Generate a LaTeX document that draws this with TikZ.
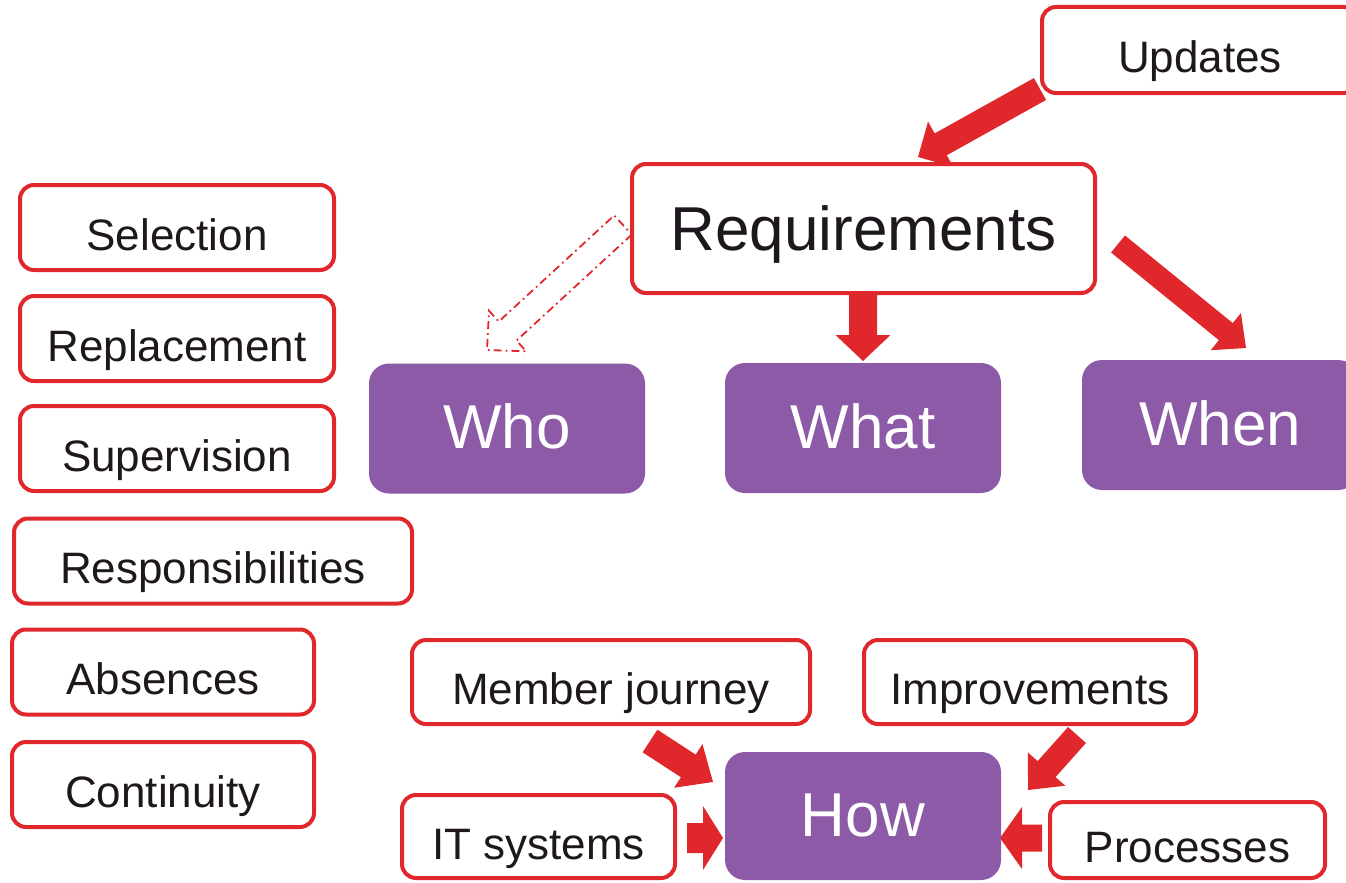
\documentclass[tikz,border=0pt]{standalone}
\usepackage{fontspec}
\setmainfont{Liberation Sans}
\usetikzlibrary{calc,backgrounds}

\definecolor{boxred}{RGB}{224,40,44}
\definecolor{boxpurple}{RGB}{141,90,168}
\definecolor{ink}{RGB}{30,24,30}

% [style]{from}{tip}{shaft half width}{head half width}{head length}
\newcommand{\blockarrow}[6][]{%
  \coordinate (hb) at ($(#3)!#6!(#2)$);
  \path[#1] ($(#2)!#4!90:(#3)$) -- ($(hb)!#4!90:(#3)$) -- ($(hb)!#5!90:(#3)$) -- (#3)
    -- ($(hb)!#5!-90:(#3)$) -- ($(hb)!#4!-90:(#3)$) -- ($(#2)!#4!-90:(#3)$) -- cycle;
}

\begin{document}
\begin{tikzpicture}[x=1pt,y=-1pt,
    redbox/.style={draw=boxred, line width=4pt, fill=white, rounded corners=14pt,
      text=ink, font=\fontsize{44}{50}\selectfont, text height=45.5pt, text depth=0pt,
      inner sep=0pt, outer sep=0pt, minimum height=85pt},
    purplebox/.style={fill=boxpurple, rounded corners=20pt, text=white,
      font=\fontsize{62}{70}\selectfont, text height=40pt, text depth=0pt,
      inner sep=0pt, outer sep=0pt, minimum width=276pt, minimum height=130pt},
    solidarrow/.style={fill=boxred},
    hollowarrow/.style={draw=boxred, line width=1.8pt, dash pattern=on 8pt off 4pt on 1.8pt off 4pt}]
  \useasboundingbox (0,0) rectangle (1346,883);

  \node[redbox, minimum width=316pt, minimum height=86pt] (upd) at (1200,50) {Updates};
  \node[redbox, minimum width=463pt, minimum height=129pt,
    font=\fontsize{62}{70}\selectfont, text height=44pt] (req) at (863.5,228.5) {Requirements};

  \foreach \name/\txt/\x/\y/\w in {sel/Selection/177/227.5/314, rep/Replacement/177/338.5/314,
      sup/Supervision/177/448.5/314, res/Responsibilities/213/561/398,
      abs/Absences/163/672/302, con/Continuity/163/784.5/302}
    \node[redbox, minimum width=\w pt] (\name) at (\x,\y) {\txt};

  \node[purplebox] (who) at (507,428.5) {Who};
  \node[purplebox] (what) at (863,428) {What};
  \node[purplebox] (when) at (1220,425) {When};
  \node[purplebox, minimum height=128pt] (how) at (863,816) {How};

  \node[redbox, minimum width=398pt, minimum height=84pt] (mem) at (611,682) {Member journey};
  \node[redbox, minimum width=332pt, minimum height=84pt] (imp) at (1030,682) {Improvements};
  \node[redbox, minimum width=273pt, minimum height=83pt] (its) at (538.5,836.5) {IT systems};
  \node[redbox, minimum width=275pt, minimum height=76pt] (pro) at (1187.5,840) {Processes};

  \begin{scope}[on background layer]
    \coordinate (u0) at ($(upd.south west)+(-2,-4)$);
    \coordinate (u1) at ($(req.north west)+(286,-7)$);
    \blockarrow[solidarrow]{u0}{u1}{12.5pt}{26pt}{26pt}

    \coordinate (w0) at ($(req.east)+(23,15.5)$);
    \coordinate (w1) at ($(when.north)+(26,-12)$);
    \blockarrow[solidarrow]{w0}{w1}{11pt}{24pt}{26pt}

    \coordinate (a0) at (req.south -| what.north);
    \coordinate (a1) at ($(what.north)+(0,-2)$);
    \blockarrow[solidarrow]{a0}{a1}{14pt}{27.5pt}{26pt}

    \coordinate (d0) at ($(req.west)+(-9,-3.5)$);
    \coordinate (d1) at ($(who.north)+(-20,-13.5)$);
    \blockarrow[hollowarrow]{d0}{d1}{13pt}{27.5pt}{28pt}

    \coordinate (m0) at ($(mem.south)+(39,17)$);
    \coordinate (m1) at ($(how.north west)+(-12,30)$);
    \blockarrow[solidarrow]{m0}{m1}{13.5pt}{26pt}{29.5pt}

    \coordinate (i0) at ($(its.east)+(12,1.5)$);
    \coordinate (i1) at ($(how.west)+(-2,22)$);
    \blockarrow[solidarrow]{i0}{i1}{15pt}{32pt}{20pt}

    \coordinate (p0) at ($(imp.south)+(47,11)$);
    \coordinate (p1) at ($(how.north east)+(27,38)$);
    \blockarrow[solidarrow]{p0}{p1}{12pt}{25pt}{28pt}

    \coordinate (r0) at ($(pro.west)+(-8,-2)$);
    \coordinate (r1) at ($(how.east)+(-1,22)$);
    \blockarrow[solidarrow]{r0}{r1}{13.5pt}{31pt}{22pt}
  \end{scope}
\end{tikzpicture}
\end{document}
